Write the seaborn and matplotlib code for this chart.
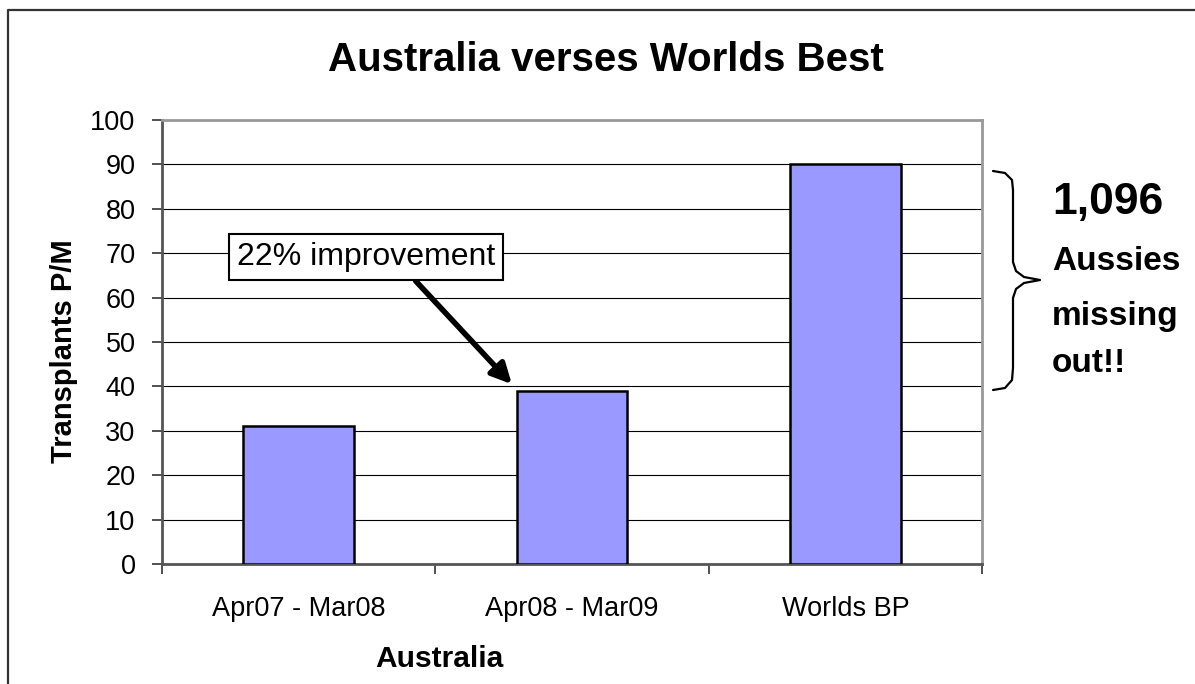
import matplotlib
matplotlib.use("Agg")
import matplotlib.pyplot as plt
from matplotlib.lines import Line2D
import numpy as np
import pandas as pd
import seaborn as sns

# data
periods = ["Apr07 - Mar08", "Apr08 - Mar09", "Worlds BP"]
transplants = [31, 39, 90]
y_ticks = [0, 10, 20, 30, 40, 50, 60, 70, 80, 90, 100]

title = "Australia verses Worlds Best"
note_text = "22% improvement"
side_big = "1,096"
side_lines = ["Aussies", "missing", "out!!"]

W, H = 1195, 684


def fx(px):
    return px / W


def fy(py):
    return 1 - py / H


sns.set_theme(style="white")
plt.rcParams["font.family"] = ["Liberation Sans", "DejaVu Sans"]
plt.rcParams["text.color"] = "black"
plt.rcParams["axes.labelcolor"] = "black"
plt.rcParams["xtick.color"] = "black"
plt.rcParams["ytick.color"] = "black"

fig = plt.figure(figsize=(W / 100, H / 100), dpi=100)
ax = fig.add_axes([fx(162), fy(564), 820 / W, 444 / H])

df = pd.DataFrame({"period": periods, "value": transplants})
sns.barplot(data=df, x="period", y="value", ax=ax, color="#9999FF",
            saturation=1, edgecolor="black", linewidth=1.8, width=0.405,
            zorder=3)

ax.set_xlim(-0.5, len(periods) - 0.5)
ax.set_ylim(0, 100)
ax.set_yticks(y_ticks)
ax.yaxis.grid(True, color="black", linewidth=0.8, zorder=0)
ax.set_axisbelow(True)

# category boundary ticks on x
ax.set_xticks(np.arange(len(periods) + 1) - 0.5, minor=True)
ax.tick_params(axis="x", which="major", length=0, labelsize=19.5, pad=23,
               labelcolor="black")
ax.tick_params(axis="x", which="minor", length=7, width=1.2, color="#333333",
               bottom=True, direction="out")
ax.tick_params(axis="y", length=7, width=1.2, color="#333333", left=True,
               direction="out", labelsize=19.5, pad=12, labelcolor="black")

for side in ["left", "bottom"]:
    ax.spines[side].set_color("#555555")
    ax.spines[side].set_linewidth(2)
for side in ["top", "right"]:
    ax.spines[side].set_color("#999999")
    ax.spines[side].set_linewidth(2)

ax.set_xlabel("Australia", fontsize=21.5, fontweight="bold", color="black")
ax.xaxis.set_label_coords((439 - 162) / 820, -(645 - 564) / 444)
ax.set_ylabel("Transplants P/M", fontsize=21, fontweight="bold", color="black")
ax.yaxis.label.set_va("center")
ax.yaxis.set_label_coords((64 - 162) / 820, (564 - 351) / 444)

fig.text(fx(606), fy(60), title, fontsize=29, fontweight="bold",
         ha="center", va="center", color="black")

# arrow annotation
ax.annotate(note_text, xy=(0.78, 40.5), xytext=(0.247, 69.1),
            fontsize=23, ha="center", va="center", zorder=5, color="black",
            bbox=dict(boxstyle="square,pad=0.25", fc="white", ec="black", lw=1.5),
            arrowprops=dict(arrowstyle="-|>", color="black", lw=4,
                            mutation_scale=30, relpos=(0.66, 0.0),
                            shrinkA=0, shrinkB=0))

# brace on the right
bx = [993, 1005, 1012, 1013, 1013, 1016, 1024, 1040, 1024, 1016, 1013, 1013,
      1012, 1005, 993]
by = [171, 173, 180, 190, 262, 271, 277, 280, 283, 289, 298, 368,
      380, 388, 390]
fig.add_artist(Line2D([fx(v) for v in bx], [fy(v) for v in by],
                      color="black", lw=1.6, transform=fig.transFigure))

fig.text(fx(1052), fy(214), side_big, fontsize=32, fontweight="bold",
         ha="left", va="baseline", color="black")
for txt, base in zip(side_lines, [270, 325, 372]):
    fig.text(fx(1052), fy(base), txt, fontsize=24, fontweight="bold",
             ha="left", va="baseline", color="black")

# outer frame (top and left edges visible)
fig.add_artist(Line2D([fx(8), fx(8), fx(1195)], [fy(684), fy(10), fy(10)],
                      color="#333333", lw=1.6, transform=fig.transFigure))

fig.savefig("out.png", dpi=100)
plt.close(fig)
